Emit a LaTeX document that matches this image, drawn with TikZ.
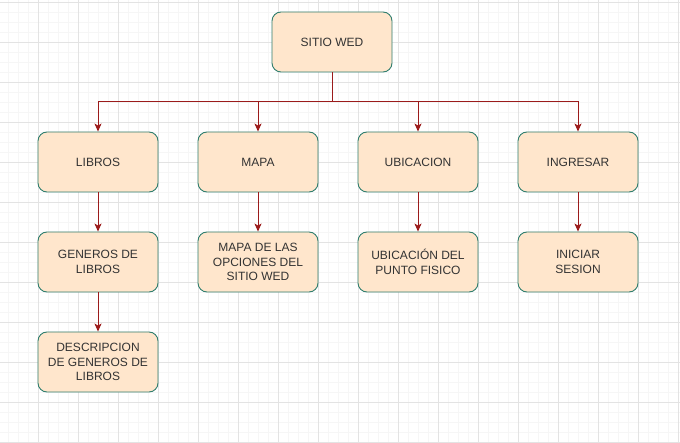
\documentclass[tikz,border=0pt]{standalone}
\usepackage{fontspec}
\setmainfont{Liberation Sans}
\usepackage{xcolor}
\usetikzlibrary{arrows.meta}
\definecolor{boxfill}{HTML}{FFE6CC}
\definecolor{boxline}{HTML}{2F7D6D}
\definecolor{linkred}{HTML}{9B1B1B}
\definecolor{gridminor}{HTML}{F6F6F6}
\definecolor{gridmajor}{HTML}{E3E3E3}

\begin{document}
\begin{tikzpicture}[x=1bp, y=-1bp,
        % Define a style for the boxes
        box/.style={draw=boxline, fill=boxfill, rounded corners=9bp, line width=0.9bp,
            minimum width=120bp, minimum height=60bp, align=center,
            font=\fontsize{12bp}{14.4bp}\selectfont, text=black!80},
        % Define a style for the connectors
        link/.style={draw=linkred, line width=0.9bp, -{Stealth[length=8bp, width=7bp, inset=2bp]}}]

        % 1. Background and grid
        \fill[white] (0,0) rectangle (680,443);
        \useasboundingbox (0,0) rectangle (680,443);
        \foreach \x in {8,18,...,678} \draw[gridminor, line width=0.7bp] (\x,0) -- (\x,443);
        \foreach \y in {2,12,...,442} \draw[gridminor, line width=0.7bp] (0,\y) -- (680,\y);
        \foreach \x in {38,78,...,678} \draw[gridmajor, line width=0.7bp] (\x,0) -- (\x,443);
        \foreach \y in {2,42,...,442} \draw[gridmajor, line width=0.7bp] (0,\y) -- (680,\y);

        % 2. Top node
        \node[box] (sitio) at (332,42) {SITIO WED};

        % 3. First row of sections
        \node[box] (libros) at (98,162) {LIBROS};
        \node[box] (mapa) at (258,162) {MAPA};
        \node[box] (ubicacion) at (418,162) {UBICACION};
        \node[box] (ingresar) at (578,162) {INGRESAR};

        % 4. Second row
        \node[box] (generos) at (98,262) {GENEROS DE\\LIBROS};
        \node[box] (opciones) at (258,262) {MAPA DE LAS\\OPCIONES DEL\\SITIO WED};
        \node[box] (punto) at (418,262) {UBICACIÓN DEL\\PUNTO FISICO};
        \node[box] (sesion) at (578,262) {INICIAR\\SESION};

        % 5. Third row
        \node[box] (descripcion) at (98,362) {DESCRIPCION\\DE GENEROS DE\\LIBROS};

        % 6. Connectors from the top node through the bus
        \coordinate (bus) at (332,101);
        \foreach \n in {libros, mapa, ubicacion, ingresar}
            \draw[link] (sitio.south) -- (bus) -| (\n.north);

        % 7. Connectors down each column
        \draw[link] (libros) -- (generos);
        \draw[link] (generos) -- (descripcion);
        \draw[link] (mapa) -- (opciones);
        \draw[link] (ubicacion) -- (punto);
        \draw[link] (ingresar) -- (sesion);

    \end{tikzpicture}
\end{document}
